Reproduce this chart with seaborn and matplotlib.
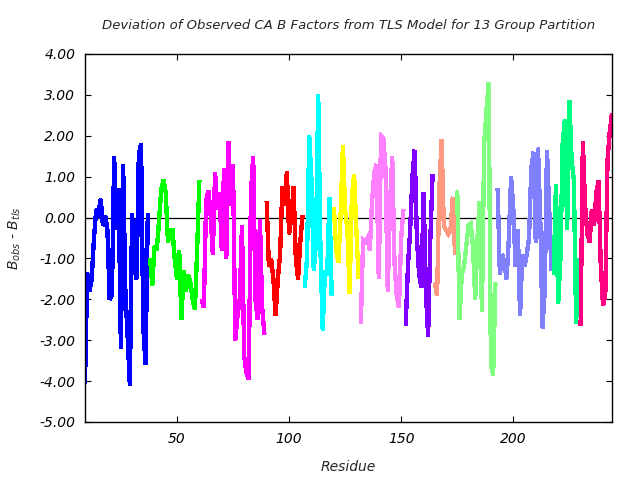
import matplotlib
matplotlib.use("Agg")
import matplotlib.pyplot as plt
import seaborn as sns
import pandas as pd

# ---- data ----
group_names = ["blue", "green", "magenta", "red", "cyan", "yellow", "pink",
               "purple", "salmon", "lightgreen", "lavender", "springgreen", "deeppink"]
group_colors = ["#0000ff", "#00ff00", "#ff00ff", "#ff0000", "#00ffff", "#ffff00", "#ff80ff",
                "#8000ff", "#ff9980", "#80ff80", "#8080ff", "#00ff80", "#ff0080"]
group_start = [9, 38, 61, 90, 107, 120, 132, 152, 165, 175, 193, 218, 230]

blue = [-4.05, -1.35, -1.8, -1.5, -0.5, 0.2, 0.1, 0.45, -0.2, 0.05, -0.3, -2.0, -1.9, 1.5,
        -0.3, 0.7, -3.2, 1.3, -1.8, -2.9, -4.1, 0.1, -1.2, -1.5, 1.55, 1.8, -2.7, -3.6, 0.1]
green = [-1.0, -1.65, -0.7, -0.8, -0.1, 0.7, 0.92, 0.6, -0.6, -0.3, -0.3, -1.0, -1.5, -0.8,
         -2.5, -1.3, -1.8, -1.4, -1.6, -2.0, -2.25, -0.8, 0.9]
magenta = [-2.0, -2.2, 0.4, 0.65, 0.1, -0.9, 1.1, 0.2, 0.6, -0.8, 1.2, -1.0, 1.85, 0.3, 1.3,
           -3.0, -2.4, -2.0, -0.2, -3.4, -3.8, -3.95, 0.6, 1.5, -2.0, -2.5, -0.05, -2.2, -2.85]
red = [0.4, -1.2, -1.0, -1.5, -2.4, -1.5, -0.9, 0.75, 0.3, 1.12, -0.4, 0.0, 0.75, -1.0, -1.5,
       -0.6, 0.05]
cyan = [-1.7, -1.0, 2.0, 0.9, -1.3, -0.6, 3.0, -0.8, -2.75, -1.3, -1.4, 0.5, -1.9]
yellow = [0.25, -0.8, -1.1, 0.1, 1.77, 0.2, -0.3, -1.85, 0.5, 1.05, -0.3, -1.5]
pink = [-2.6, -0.55, -0.6, -0.5, -0.8, 0.4, 1.1, 1.3, -1.5, 2.0, 1.95, 1.2, -1.8, 0.3, 1.5,
        -1.1, -1.9, -2.2, -0.5, 0.2]
purple = [-2.65, -1.2, -0.3, 1.0, 1.65, -0.5, -1.4, -1.7, 0.6, -1.8, -2.9, -0.5, 1.05]
salmon = [-1.6, -1.9, 0.7, 1.9, -0.2, -0.3, -0.4, -0.3, 0.5, -0.9]
lightgreen = [0.65, -2.5, -1.4, -1.2, -0.7, -0.2, -0.15, -0.7, -2.0, -0.5, 0.4, -2.3, 1.8,
              2.6, 3.3, -3.6, -3.85, -1.6]
lavender = [0.7, -1.4, -0.9, -1.1, -1.5, -0.5, 1.0, 0.2, -1.2, -0.3, -2.4, -0.9, -1.2, -0.9,
            -0.5, 1.2, 1.6, -0.6, 1.7, 0.0, -2.7, -1.8, 1.65, 0.2, -1.3]
springgreen = [-1.4, 0.8, -2.1, -1.0, 1.8, 2.4, -0.3, 2.85, 1.4, 0.9, -2.6, -1.0]
deeppink = [-2.65, 1.85, 0.3, -0.4, -0.6, 0.2, -0.2, 0.6, 0.9, -1.2, -2.15, -1.9, 1.4, 2.1, 2.55]

group_values = [blue, green, magenta, red, cyan, yellow, pink, purple, salmon,
                lightgreen, lavender, springgreen, deeppink]

x_ticks = [50, 100, 150, 200]
y_ticks = [-5, -4, -3, -2, -1, 0, 1, 2, 3, 4]

title = "Deviation of Observed CA B Factors from TLS Model for 13 Group Partition"

rows = []
for name, start, vals in zip(group_names, group_start, group_values):
    for i, v in enumerate(vals):
        rows.append({"residue": start + i, "dev": v, "group": name})
df = pd.DataFrame(rows)

sns.set_theme(style="ticks")
plt.rcParams["font.family"] = ["DejaVu Sans"]
plt.rcParams["axes.unicode_minus"] = False
plt.rcParams["mathtext.fontset"] = "dejavusans"

fig = plt.figure(figsize=(6.4, 4.8), dpi=100)
ax = fig.add_axes([85 / 640, 1 - 422 / 480, (612 - 85) / 640, (422 - 54) / 480])

sns.lineplot(data=df, x="residue", y="dev", hue="group", hue_order=group_names,
             palette=dict(zip(group_names, group_colors)), legend=False,
             linewidth=2.4, estimator=None, ax=ax, antialiased=False,
             solid_joinstyle="miter", solid_capstyle="butt")
ax.axhline(0, color="black", lw=0.9, zorder=1)

ax.set_xlim(df["residue"].min(), df["residue"].max())
ax.set_ylim(-5, 4)
ax.set_xticks(x_ticks)
ax.set_yticks(y_ticks)
ax.set_xticklabels([str(t) for t in x_ticks], fontsize=10, style="italic")
ax.set_yticklabels(["%.2f" % t for t in y_ticks], fontsize=10, style="italic")
ax.tick_params(direction="in", length=4, width=0.8, top=True, right=True, pad=7, colors="black")
for s in ax.spines.values():
    s.set_color("black")
    s.set_linewidth(1.0)
ax.set_xlabel("")
ax.set_ylabel("")

cx = (85 + 612) / 2 / 640
fig.text(cx, 1 - 25 / 480, title, ha="center", va="center", fontsize=9.5, style="italic")
fig.text(cx, 1 - 467 / 480, "Residue", ha="center", va="center", fontsize=10, style="italic")
fig.text(15 / 640, 1 - 238 / 480, r"$B_{obs}$ - $B_{tls}$", ha="center", va="center",
         rotation=90, fontsize=10, style="italic")

fig.savefig("out.png", dpi=100)
